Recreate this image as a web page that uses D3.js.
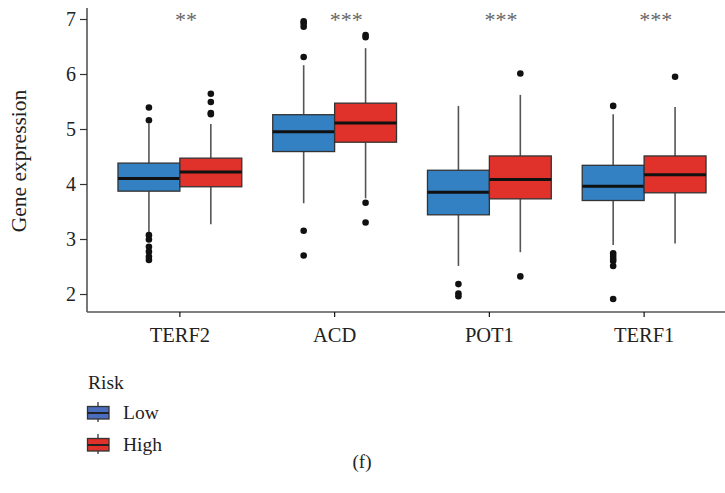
<!DOCTYPE html>
<html>
<head>
<meta charset="utf-8">
<script src="https://cdn.jsdelivr.net/npm/d3@7"></script>
<style>
  html, body { margin: 0; padding: 0; background: #fff; }
  svg { display: block; }
  text { font-family: "Liberation Serif", "Times New Roman", serif; fill: #222; }
</style>
</head>
<body>
<div id="chart"></div>
<script>
// Genes on the x axis and risk groups within each gene
const genes = ["TERF2", "ACD", "POT1", "TERF1"];
const groups = ["Low", "High"];
const significance = ["**", "***", "***", "***"];
const yTicks = [2, 3, 4, 5, 6, 7];

// Box statistics per gene: [lower whisker, Q1, median, Q3, upper whisker]
const lowStats = [
  [3.12, 3.87, 4.10, 4.38, 5.10],
  [3.65, 4.59, 4.95, 5.26, 6.16],
  [2.51, 3.44, 3.85, 4.25, 5.42],
  [2.89, 3.70, 3.96, 4.34, 5.27]
];
const highStats = [
  [3.27, 3.95, 4.22, 4.47, 5.09],
  [3.74, 4.76, 5.11, 5.47, 6.47],
  [2.76, 3.73, 4.08, 4.51, 5.62],
  [2.92, 3.84, 4.17, 4.51, 5.40]
];

// Outlying samples per gene
const lowOutliers = [
  [5.39, 5.16, 3.07, 2.99, 2.86, 2.77, 2.68, 2.62],
  [6.96, 6.92, 6.86, 6.31, 3.15, 2.70],
  [2.18, 2.01, 1.96],
  [5.42, 2.74, 2.69, 2.64, 2.60, 2.51, 1.91]
];
const highOutliers = [
  [5.64, 5.49, 5.29, 5.27],
  [6.71, 6.67, 3.66, 3.30],
  [6.01, 2.32],
  [5.95]
];

const boxColors = { Low: "#3380c2", High: "#e0322a" };
const legendColors = { Low: "#4a6dbd", High: "#e0322a" };

const width = 725, height = 493;
const svg = d3.select("#chart").append("svg")
  .attr("width", width).attr("height", height);

const y = d3.scaleLinear().domain([1.673, 7.2]).range([312, 8]);
const x = d3.scaleBand().domain(genes).range([102.5, 721.5]);
const xg = d3.scaleBand().domain(groups).range([0, x.bandwidth()])
  .paddingInner(0).paddingOuter(0.25);

// Y axis
const yAxis = svg.append("g")
  .attr("transform", "translate(87,0)")
  .call(d3.axisLeft(y).tickValues(yTicks).tickSize(7).tickPadding(4).tickFormat(d3.format("d")));
yAxis.select(".domain").attr("stroke", "#555").attr("stroke-width", 1.6)
  .attr("d", `M0,${y(7.2)}V312`);
yAxis.selectAll(".tick line").attr("stroke", "#333").attr("stroke-width", 1.2);
yAxis.selectAll(".tick text").style("font-size", "20px").attr("fill", "#222")
  .style("font-family", "Liberation Serif, serif");

// X axis
const xAxis = svg.append("g")
  .attr("transform", "translate(0,312)")
  .call(d3.axisBottom(x).tickSize(5).tickPadding(10));
xAxis.select(".domain").attr("stroke", "#555").attr("stroke-width", 1.6)
  .attr("d", "M87,0H725");
xAxis.selectAll(".tick line").attr("stroke", "#111").attr("stroke-width", 1.2);
xAxis.selectAll(".tick text").style("font-size", "20.5px").attr("fill", "#222")
  .style("font-family", "Liberation Serif, serif");

// Y axis title
svg.append("text")
  .attr("transform", `translate(26,${(y(7.2) + 312) / 2 + 1}) rotate(-90)`)
  .attr("text-anchor", "middle")
  .style("font-size", "21.5px")
  .text("Gene expression");

// Boxplots
const statsByGroup = { Low: lowStats, High: highStats };
const outliersByGroup = { Low: lowOutliers, High: highOutliers };

genes.forEach((gene, gi) => {
  groups.forEach(grp => {
    const [wLo, q1, med, q3, wHi] = statsByGroup[grp][gi];
    const x0 = x(gene) + xg(grp);
    const bw = xg.bandwidth();
    const cx = x0 + bw / 2;
    const g = svg.append("g");
    g.append("line").attr("x1", cx).attr("x2", cx).attr("y1", y(wHi)).attr("y2", y(q3))
      .attr("stroke", "#555").attr("stroke-width", 1.6);
    g.append("line").attr("x1", cx).attr("x2", cx).attr("y1", y(q1)).attr("y2", y(wLo))
      .attr("stroke", "#555").attr("stroke-width", 1.6);
    g.append("rect").attr("x", x0).attr("y", y(q3)).attr("width", bw).attr("height", y(q1) - y(q3))
      .attr("fill", boxColors[grp]).attr("stroke", "#333").attr("stroke-width", 1.3);
    g.append("line").attr("x1", x0).attr("x2", x0 + bw).attr("y1", y(med)).attr("y2", y(med))
      .attr("stroke", "#111").attr("stroke-width", 3);
    g.selectAll("circle").data(outliersByGroup[grp][gi]).join("circle")
      .attr("cx", cx).attr("cy", d => y(d)).attr("r", 3.3).attr("fill", "#111");
  });
});

// Significance marks above each gene
svg.selectAll(".sig").data(genes).join("text")
  .attr("class", "sig")
  .attr("x", d => x(d) + x.bandwidth() / 2 - 5)
  .attr("y", 27)
  .attr("text-anchor", "start")
  .style("font-size", "22px")
  .style("fill", "#666")
  .text((d, i) => significance[i]);

// Legend
svg.append("text").attr("x", 88).attr("y", 389).style("font-size", "19.5px").text("Risk");
groups.forEach((grp, i) => {
  const ly = 413 + i * 32;
  const lg = svg.append("g");
  lg.append("line").attr("x1", 98).attr("x2", 98).attr("y1", ly - 11).attr("y2", ly + 9)
    .attr("stroke", "#333").attr("stroke-width", 1.3);
  lg.append("rect").attr("x", 87.5).attr("y", ly - 6.5).attr("width", 21.5).attr("height", 12.5)
    .attr("fill", legendColors[grp]).attr("stroke", "#333").attr("stroke-width", 1.3);
  lg.append("line").attr("x1", 87.5).attr("x2", 109).attr("y1", ly).attr("y2", ly)
    .attr("stroke", "#222").attr("stroke-width", 2);
  lg.append("text").attr("x", 123).attr("y", ly + 6).style("font-size", "19.5px").text(grp);
});

// Panel label
svg.append("text").attr("x", 362).attr("y", 468).attr("text-anchor", "middle")
  .style("font-size", "19px").text("(f)");
</script>
</body>
</html>
